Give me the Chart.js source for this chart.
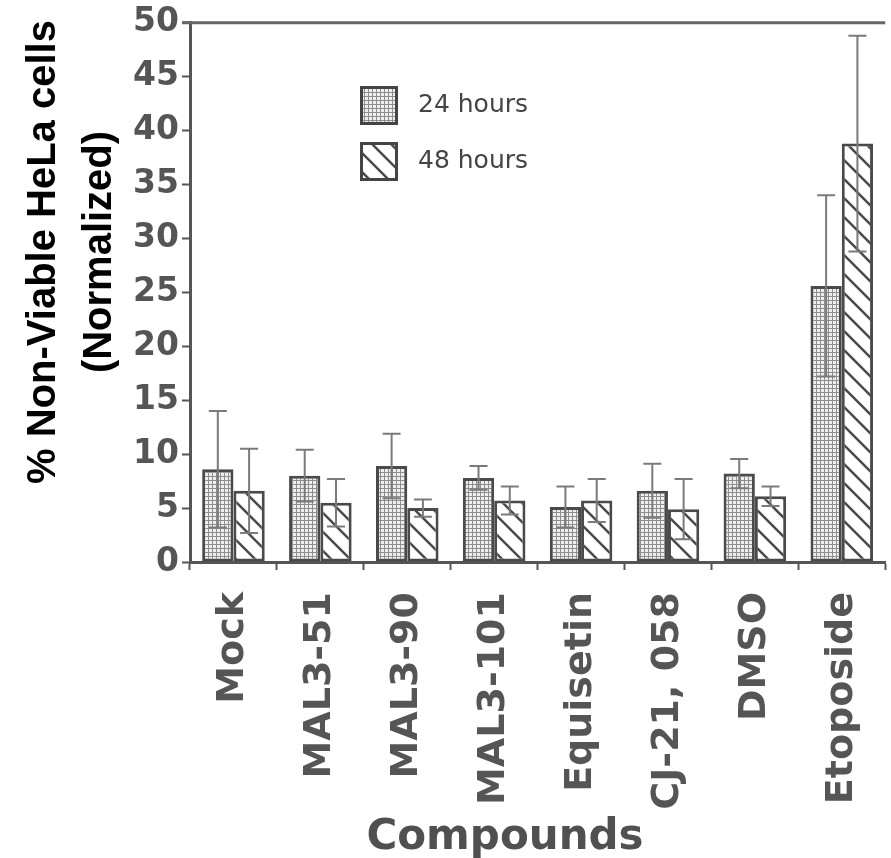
<!DOCTYPE html>
<html>
<head>
<meta charset="utf-8">
<script src="https://cdn.jsdelivr.net/npm/chart.js@4.4.1/dist/chart.umd.min.js"></script>
<style>
  html, body { margin: 0; padding: 0; background: #fff; overflow: hidden; }
  #wrap { width: 910px; height: 858px; }
</style>
</head>
<body>
<div id="wrap"><canvas id="grafica"></canvas></div>
<script>
// datos
const compuestos = ["Mock", "MAL3-51", "MAL3-90", "MAL3-101", "Equisetin", "CJ-21, 058", "DMSO", "Etoposide"];
const media24 = [8.6, 8.0, 8.9, 7.8, 5.1, 6.6, 8.2, 25.6];
const error24 = [5.4, 2.4, 3.0, 1.1, 1.9, 2.5, 1.35, 8.4];
const media48 = [6.6, 5.5, 5.0, 5.7, 5.7, 4.9, 6.1, 38.8];
const error48 = [3.9, 2.2, 0.8, 1.3, 2.0, 2.8, 0.9, 10.0];
const yTicks = [0, 5, 10, 15, 20, 25, 30, 35, 40, 45, 50];

const gris = '#555';

function tramaCuadricula(){
    var c = document.createElement('canvas');
    c.width = 4; c.height = 4;
    var g = c.getContext('2d');
    g.fillStyle = '#eeeeee';
    g.fillRect(0, 0, 4, 4);
    g.fillStyle = '#8e8e8e';
    g.fillRect(0, 0, 4, 1);
    g.fillRect(0, 0, 1, 4);
    return g.createPattern(c, 'repeat');
}

function tramaRayas(){
    var s = 19;
    var c = document.createElement('canvas');
    c.width = s; c.height = s;
    var g = c.getContext('2d');
    g.fillStyle = '#fff';
    g.fillRect(0, 0, s, s);
    g.strokeStyle = '#4a4a4a';
    g.lineWidth = 2.5;
    g.beginPath();
    g.moveTo(-2, -2); g.lineTo(s + 2, s + 2);
    g.moveTo(-s, 0); g.lineTo(s, 2 * s);
    g.moveTo(0, -s); g.lineTo(2 * s, s);
    g.stroke();
    return g.createPattern(c, 'repeat');
}

const relleno24 = tramaCuadricula();
const relleno48 = tramaRayas();

// barras de error dibujadas con la escala y
const barrasError = {
    id: 'barrasError',
    afterDatasetsDraw: function(chart){
        var ctx = chart.ctx;
        var y = chart.scales.y;
        var errores = [error24, error48];
        chart.data.datasets.forEach(function(ds, i){
            var meta = chart.getDatasetMeta(i);
            meta.data.forEach(function(bar, j){
                var v = ds.data[j];
                var e = errores[i][j];
                var arriba = y.getPixelForValue(v + e);
                var abajo = y.getPixelForValue(v - e);
                ctx.save();
                ctx.strokeStyle = '#7a7a7a';
                ctx.lineWidth = 2;
                ctx.beginPath();
                ctx.moveTo(bar.x, arriba); ctx.lineTo(bar.x, abajo);
                ctx.moveTo(bar.x - 9, arriba); ctx.lineTo(bar.x + 9, arriba);
                ctx.moveTo(bar.x - 9, abajo); ctx.lineTo(bar.x + 9, abajo);
                ctx.stroke();
                ctx.restore();
            });
        });
    }
};

// marco superior, leyenda y titulos
const decorado = {
    id: 'decorado',
    afterDraw: function(chart){
        var ctx = chart.ctx;
        var area = chart.chartArea;
        ctx.save();
        ctx.strokeStyle = '#666';
        ctx.lineWidth = 3;
        ctx.beginPath();
        ctx.moveTo(area.left - 8, area.top);
        ctx.lineTo(area.right, area.top);
        ctx.stroke();

        // leyenda
        var items = [
            {texto: '24 hours', relleno: relleno24, y: 86},
            {texto: '48 hours', relleno: relleno48, y: 142}
        ];
        items.forEach(function(it){
            ctx.fillStyle = it.relleno;
            ctx.fillRect(360, it.y, 38, 39);
            ctx.strokeStyle = '#444';
            ctx.lineWidth = 3;
            ctx.strokeRect(361.5, it.y + 1.5, 35, 36);
            ctx.fillStyle = '#444';
            ctx.font = '25px "DejaVu Sans"';
            ctx.textAlign = 'left';
            ctx.textBaseline = 'middle';
            ctx.fillText(it.texto, 418, it.y + 19);
        });

        // titulo eje y
        ctx.fillStyle = '#000';
        ctx.font = 'bold 40px "Liberation Sans"';
        ctx.textAlign = 'center';
        ctx.textBaseline = 'middle';
        ctx.save();
        ctx.translate(44, 252);
        ctx.rotate(-Math.PI / 2);
        ctx.fillText('% Non-Viable HeLa cells', 0, 0);
        ctx.restore();
        ctx.save();
        ctx.translate(100, 252);
        ctx.rotate(-Math.PI / 2);
        ctx.fillText('(Normalized)', 0, 0);
        ctx.restore();

        // titulo eje x
        ctx.fillStyle = '#505050';
        ctx.font = 'bold 42px "DejaVu Sans"';
        ctx.textBaseline = 'alphabetic';
        ctx.fillText('Compounds', 505, 849);
        ctx.restore();
    }
};

var chart;

function drawChart(){
    var ctx = document.getElementById('grafica').getContext('2d');
    chart = new Chart(ctx, {
        type: 'bar',
        data: {
            labels: compuestos,
            datasets: [
                {
                    label: '24 hours',
                    data: media24,
                    backgroundColor: relleno24,
                    borderColor: '#4a4a4a',
                    borderWidth: 3,
                    borderSkipped: false,
                    categoryPercentage: 0.72,
                    barPercentage: 1.0
                },
                {
                    label: '48 hours',
                    data: media48,
                    backgroundColor: relleno48,
                    borderColor: '#4a4a4a',
                    borderWidth: 3,
                    borderSkipped: false,
                    categoryPercentage: 0.72,
                    barPercentage: 1.0
                }
            ]
        },
        options: {
            animation: false,
            responsive: true,
            maintainAspectRatio: false,
            layout: { padding: { top: 22, right: 10, left: 0, bottom: 0 } },
            plugins: {
                legend: { display: false },
                tooltip: { enabled: false }
            },
            scales: {
                x: {
                    afterFit: function(scale){ scale.height = 296; },
                    grid: { drawOnChartArea: false, tickLength: 8, tickColor: gris, tickWidth: 2 },
                    border: { color: gris, width: 3 },
                    ticks: {
                        autoSkip: false,
                        minRotation: 90,
                        maxRotation: 90,
                        padding: 22,
                        color: gris,
                        font: { family: 'DejaVu Sans', weight: 'bold', size: 38 }
                    }
                },
                y: {
                    min: 0,
                    max: 50,
                    afterFit: function(scale){ scale.width = 190; },
                    afterBuildTicks: function(scale){
                        scale.ticks = yTicks.map(function(v){ return {value: v}; });
                    },
                    grid: { drawOnChartArea: false, tickLength: 8, tickColor: gris, tickWidth: 2 },
                    border: { color: gris, width: 3 },
                    ticks: {
                        padding: 3,
                        color: gris,
                        font: { family: 'DejaVu Sans', weight: 'bold', size: 33 }
                    }
                }
            }
        },
        plugins: [barrasError, decorado]
    });
}

document.addEventListener("DOMContentLoaded", function(){
    drawChart();
});
</script>
</body>
</html>
